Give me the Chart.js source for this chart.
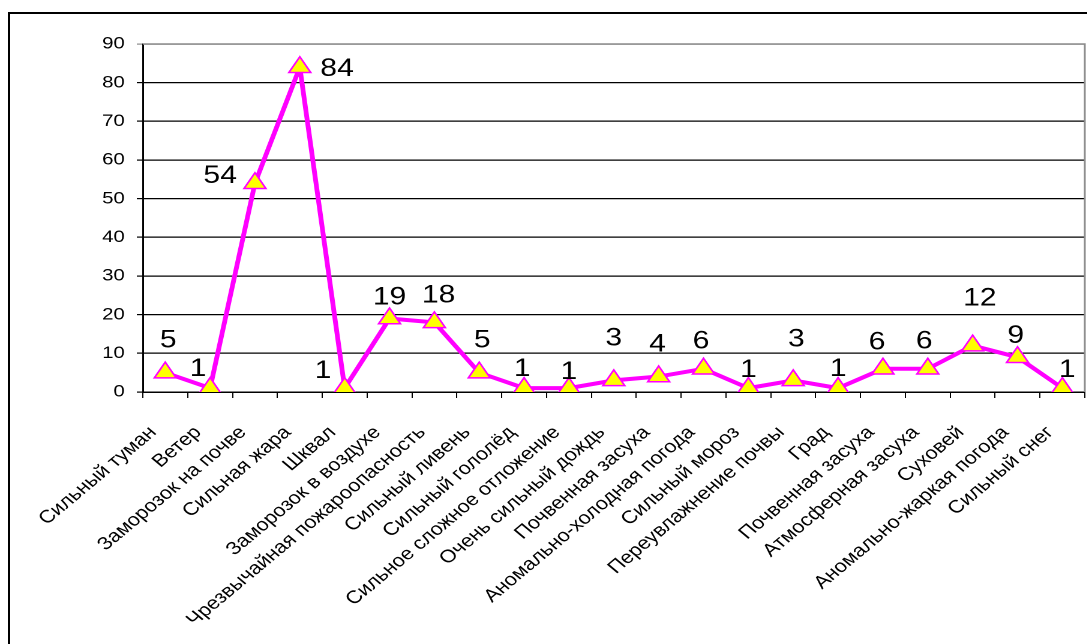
<!DOCTYPE html>
<html>
<head>
<meta charset="utf-8">
<script src="https://cdn.jsdelivr.net/npm/chart.js@4.4.1/dist/chart.umd.min.js"></script>
<style>
  html, body { margin: 0; padding: 0; background: #fff; }
  #page { position: relative; width: 1087px; height: 644px; overflow: hidden; background: #fff; }
  #stretch { position: absolute; left: 0; top: 0; width: 906px; height: 644px; transform: scaleX(1.2); transform-origin: 0 0; }
  #frame { position: absolute; left: 8px; top: 12px; width: 1100px; height: 700px; border: 2px solid #000; pointer-events: none; }
</style>
</head>
<body>
<div id="page">
  <div id="stretch"><canvas id="chart" width="906" height="644"></canvas></div>
  <div id="frame"></div>
</div>
<script>
// Weather hazard categories and how many times each occurred
const categories = [
  'Сильный туман', 'Ветер', 'Заморозок на почве', 'Сильная жара', 'Шквал',
  'Заморозок в воздухе', 'Чрезвычайная пожароопасность', 'Сильный ливень',
  'Сильный гололёд', 'Сильное сложное отложение', 'Очень сильный дождь',
  'Почвенная засуха', 'Аномально-холодная погода', 'Сильный мороз',
  'Переувлажнение почвы', 'Град', 'Почвенная засуха', 'Атмосферная засуха',
  'Суховей', 'Аномально-жаркая погода', 'Сильный снег'
];
const counts = [5, 1, 54, 84, 1, 19, 18, 5, 1, 1, 3, 4, 6, 1, 3, 1, 6, 6, 12, 9, 1];

// Value axis range
const yMin = 0;
const yMax = 90;
const yStep = 10;

// Hand-placed value labels: shift from each marker, in canvas pixels
const labelShift = [
  [2.5, -32], [-10, -19], [-29, -7], [31, 2], [-18, -17], [0, -21], [3.5, -27],
  [2.5, -32], [-1.5, -19], [0, -16], [0, -42], [-1, -32], [-2, -27], [0, -18],
  [2.5, -41], [0, -19], [-5, -26], [-3, -27], [6, -47], [-1.5, -21], [4, -18]
];

const plotBorder = {
  id: 'plotBorder',
  beforeDatasetsDraw(chart) {
    const { ctx, chartArea: a } = chart;
    ctx.save();
    ctx.strokeStyle = '#8c8c8c';
    ctx.lineWidth = 1.5;
    ctx.beginPath();
    ctx.moveTo(a.left, a.top);
    ctx.lineTo(a.right, a.top);
    ctx.lineTo(a.right, a.bottom);
    ctx.stroke();
    ctx.restore();
  }
};

const valueLabels = {
  id: 'valueLabels',
  afterDatasetsDraw(chart) {
    const { ctx } = chart;
    const meta = chart.getDatasetMeta(0);
    ctx.save();
    ctx.fillStyle = '#000';
    ctx.font = '25px "Liberation Sans", Arial, sans-serif';
    ctx.textAlign = 'center';
    ctx.textBaseline = 'middle';
    meta.data.forEach((pt, i) => {
      const [dx, dy] = labelShift[i];
      ctx.fillText(String(counts[i]), pt.x + dx, pt.y + dy);
    });
    ctx.restore();
  }
};

new Chart(document.getElementById('chart'), {
  type: 'line',
  data: {
    labels: categories,
    datasets: [{
      data: counts,
      borderColor: '#FF00FF',
      borderWidth: 4,
      tension: 0,
      fill: false,
      pointStyle: 'triangle',
      pointRadius: 10.5,
      pointBackgroundColor: '#FFFF00',
      pointBorderColor: '#FF00FF',
      pointBorderWidth: 1.5
    }]
  },
  options: {
    responsive: false,
    animation: false,
    devicePixelRatio: 2,
    layout: { autoPadding: false, padding: { top: 44, right: 2, left: 0, bottom: 0 } },
    plugins: { legend: { display: false }, tooltip: { enabled: false } },
    scales: {
      x: {
        offset: true,
        grid: { offset: true, drawOnChartArea: false, drawTicks: true, tickLength: 6, color: '#000', lineWidth: 1 },
        border: { display: true, color: '#000', width: 1.5 },
        ticks: {
          autoSkip: false, minRotation: 45, maxRotation: 45, padding: 24, labelOffset: -10,
          color: '#000', font: { family: '"Liberation Sans", Arial, sans-serif', size: 18 }
        },
        afterFit(scale) {
          scale.height = 252;
          scale.paddingLeft = 0;
          scale.paddingRight = 0;
        }
      },
      y: {
        min: yMin,
        max: yMax,
        grid: {
          color: (c) => (c.tick && c.tick.value === yMax ? '#8c8c8c' : '#000'),
          lineWidth: 1.2,
          tickLength: 5
        },
        border: { display: true, color: '#000', width: 1.5 },
        ticks: {
          stepSize: yStep, padding: 10, color: '#000',
          font: { family: '"Liberation Sans", Arial, sans-serif', size: 17 }
        },
        afterFit(scale) { scale.width = 119; }
      }
    }
  },
  plugins: [plotBorder, valueLabels]
});
</script>
</body>
</html>
